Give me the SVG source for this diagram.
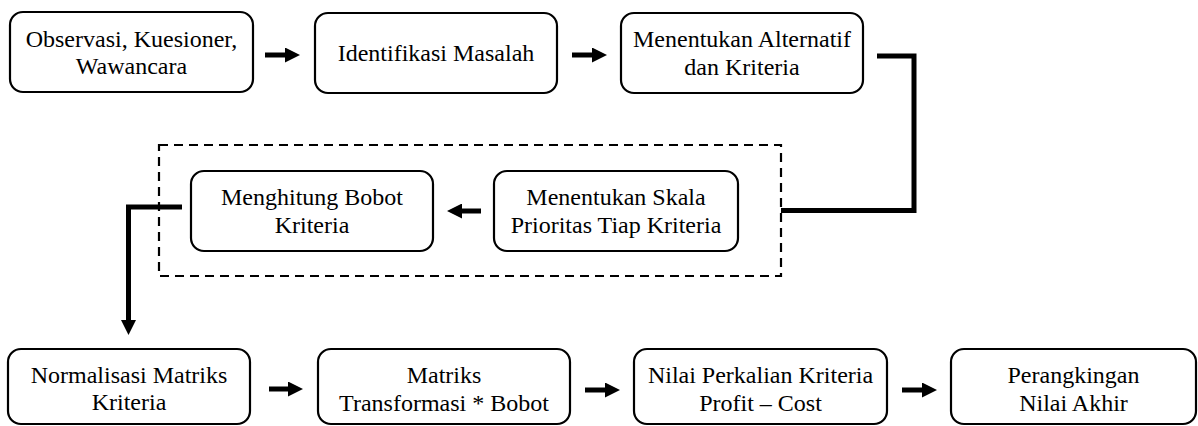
<svg xmlns="http://www.w3.org/2000/svg" width="1198" height="426" viewBox="0 0 1198 426" font-family="Liberation Serif, DejaVu Serif, serif">
<style>
.box{fill:#fff;stroke:#000;stroke-width:2.2}
.t{font-size:24px;fill:#000;text-anchor:middle}
.con{fill:none;stroke:#000;stroke-width:5;stroke-linejoin:miter;stroke-linecap:butt}
.dash{fill:none;stroke:#000;stroke-width:2.2;stroke-dasharray:9 6}
</style>
<defs>
<marker id="ah" viewBox="0 0 15 15" refX="0" refY="7.5" markerWidth="15" markerHeight="15" markerUnits="userSpaceOnUse" orient="auto">
<path d="M0,0 L15,7.5 L0,15 z" fill="#000"/>
</marker>
</defs>
<rect id="group-box" class="dash" x="159" y="145" width="622" height="131"/>
<g id="n1"><rect class="box" x="10" y="12" width="243" height="80" rx="13"/><text class="t" x="131.5" y="47">Observasi, Kuesioner,</text><text class="t" x="131.5" y="74">Wawancara</text></g>
<g id="n2"><rect class="box" x="315" y="13" width="242" height="80" rx="13"/><text class="t" x="436" y="61">Identifikasi Masalah</text></g>
<g id="n3"><rect class="box" x="621" y="13" width="242" height="80" rx="13"/><text class="t" x="742" y="47">Menentukan Alternatif</text><text class="t" x="742" y="75">dan Kriteria</text></g>
<g id="n4"><rect class="box" x="191" y="171" width="242" height="80" rx="13"/><text class="t" x="312" y="205">Menghitung Bobot</text><text class="t" x="312" y="233">Kriteria</text></g>
<g id="n5"><rect class="box" x="494" y="171" width="244" height="80" rx="13"/><text class="t" x="616" y="205">Menentukan Skala</text><text class="t" x="616" y="233">Prioritas Tiap Kriteria</text></g>
<g id="n6"><rect class="box" x="8" y="349" width="242" height="75" rx="13"/><text class="t" x="129" y="383">Normalisasi Matriks</text><text class="t" x="129" y="410">Kriteria</text></g>
<g id="n7"><rect class="box" x="318" y="349" width="252" height="75" rx="13"/><text class="t" x="444" y="383">Matriks</text><text class="t" x="444" y="411">Transformasi * Bobot</text></g>
<g id="n8"><rect class="box" x="634" y="349" width="253" height="75" rx="13"/><text class="t" x="760.5" y="383">Nilai Perkalian Kriteria</text><text class="t" x="760.5" y="411">Profit – Cost</text></g>
<g id="n9"><rect class="box" x="951" y="349" width="245" height="75" rx="13"/><text class="t" x="1073.5" y="383">Perangkingan</text><text class="t" x="1073.5" y="411">Nilai Akhir</text></g>
<g id="connectors">
<line class="con" x1="265" y1="55" x2="285" y2="55" marker-end="url(#ah)"/>
<line class="con" x1="572" y1="55" x2="592" y2="55" marker-end="url(#ah)"/>
<polyline class="con" points="877,56 914,56 914,210.5 781,210.5"/>
<line class="con" x1="481" y1="211" x2="462" y2="211" marker-end="url(#ah)"/>
<polyline class="con" points="182,207 128.5,207 128.5,320" marker-end="url(#ah)"/>
<line class="con" x1="269" y1="389" x2="288" y2="389" marker-end="url(#ah)"/>
<line class="con" x1="585" y1="390" x2="605" y2="390" marker-end="url(#ah)"/>
<line class="con" x1="902" y1="390" x2="922" y2="390" marker-end="url(#ah)"/>
</g>
</svg>
